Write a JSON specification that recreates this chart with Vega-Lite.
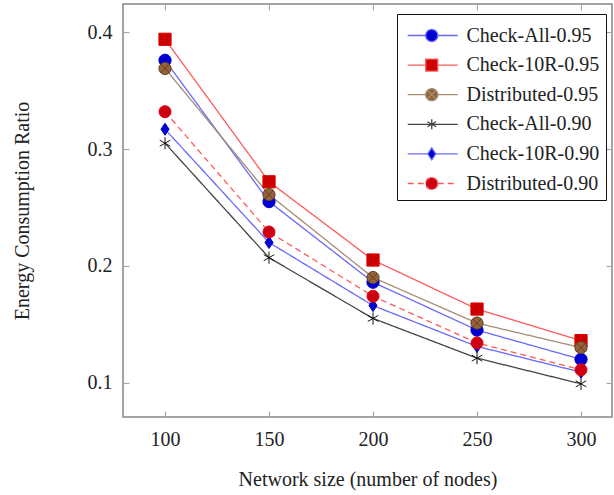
{
  "$schema": "https://vega.github.io/schema/vega-lite/v6.json",
  "width": 489,
  "height": 413,
  "autosize": {"type": "none"},
  "padding": {"left": 123, "top": 4, "right": 2, "bottom": 78},
  "background": "white",
  "config": {
    "view": {"stroke": "#858585", "strokeWidth": 1.5},
    "font": "Liberation Serif",
    "legend": {
      "orient": "none", "legendX": 274, "legendY": 10, "direction": "vertical",
      "padding": 6, "strokeColor": "#111", "fillColor": "white", "cornerRadius": 0,
      "symbolSize": 870, "symbolStrokeWidth": 1.3, "symbolOpacity": 1, "rowPadding": 3.6,
      "labelFont": "Liberation Serif", "labelFontSize": 20, "labelColor": "#222", "labelOffset": 32.5,
      "labelLimit": 300
    }
  },
  "data": {
    "values": [
      {"n": 100, "series": "Check-All-0.95", "ratio": 0.376},
      {"n": 150, "series": "Check-All-0.95", "ratio": 0.255},
      {"n": 200, "series": "Check-All-0.95", "ratio": 0.186},
      {"n": 250, "series": "Check-All-0.95", "ratio": 0.145},
      {"n": 300, "series": "Check-All-0.95", "ratio": 0.120},
      {"n": 100, "series": "Check-10R-0.95", "ratio": 0.394},
      {"n": 150, "series": "Check-10R-0.95", "ratio": 0.272},
      {"n": 200, "series": "Check-10R-0.95", "ratio": 0.205},
      {"n": 250, "series": "Check-10R-0.95", "ratio": 0.163},
      {"n": 300, "series": "Check-10R-0.95", "ratio": 0.136},
      {"n": 100, "series": "Distributed-0.95", "ratio": 0.369},
      {"n": 150, "series": "Distributed-0.95", "ratio": 0.261},
      {"n": 200, "series": "Distributed-0.95", "ratio": 0.190},
      {"n": 250, "series": "Distributed-0.95", "ratio": 0.151},
      {"n": 300, "series": "Distributed-0.95", "ratio": 0.130},
      {"n": 100, "series": "Check-All-0.90", "ratio": 0.305},
      {"n": 150, "series": "Check-All-0.90", "ratio": 0.207},
      {"n": 200, "series": "Check-All-0.90", "ratio": 0.155},
      {"n": 250, "series": "Check-All-0.90", "ratio": 0.121},
      {"n": 300, "series": "Check-All-0.90", "ratio": 0.099},
      {"n": 100, "series": "Check-10R-0.90", "ratio": 0.317},
      {"n": 150, "series": "Check-10R-0.90", "ratio": 0.220},
      {"n": 200, "series": "Check-10R-0.90", "ratio": 0.166},
      {"n": 250, "series": "Check-10R-0.90", "ratio": 0.131},
      {"n": 300, "series": "Check-10R-0.90", "ratio": 0.109},
      {"n": 100, "series": "Distributed-0.90", "ratio": 0.332},
      {"n": 150, "series": "Distributed-0.90", "ratio": 0.229},
      {"n": 200, "series": "Distributed-0.90", "ratio": 0.174},
      {"n": 250, "series": "Distributed-0.90", "ratio": 0.134},
      {"n": 300, "series": "Distributed-0.90", "ratio": 0.111}
    ]
  },
  "resolve": {
    "axis": {"x": "independent", "y": "independent"},
    "scale": {"shape": "independent", "fill": "independent", "stroke": "independent", "size": "independent", "strokeDash": "independent", "color": "independent"},
    "legend": {"shape": "independent", "fill": "independent", "stroke": "independent", "size": "independent", "strokeDash": "independent", "color": "independent"}
  },
  "layer": [
    {
      "mark": {"type": "line", "strokeWidth": 1.3},
      "encoding": {
        "x": {
          "field": "n", "type": "quantitative",
          "scale": {"domain": [79.8, 314.9], "nice": false, "zero": false},
          "axis": {
            "orient": "bottom", "values": [100, 150, 200, 250, 300], "domain": false, "grid": false,
            "tickSize": -6, "tickColor": "#a8a8a8", "tickWidth": 1.2,
            "labelFont": "Liberation Serif", "labelFontSize": 20, "labelColor": "#222", "labelPadding": 18,
            "title": "Network size (number of nodes)", "titleFont": "Liberation Serif", "titleFontSize": 20,
            "titleFontWeight": "normal", "titleColor": "#222", "titlePadding": 20
          }
        },
        "y": {
          "field": "ratio", "type": "quantitative",
          "scale": {"domain": [0.0706, 0.4242], "nice": false, "zero": false},
          "axis": {
            "orient": "left", "values": [0.1, 0.2, 0.3, 0.4], "format": ".1f", "domain": false, "grid": false,
            "tickSize": -6, "tickColor": "#a8a8a8", "tickWidth": 1.2,
            "labelFont": "Liberation Serif", "labelFontSize": 20, "labelColor": "#222", "labelPadding": 17,
            "title": "Energy Consumption Ratio", "titleFont": "Liberation Serif", "titleFontSize": 20,
            "titleFontWeight": "normal", "titleColor": "#222", "titlePadding": 55
          }
        },
        "color": {
          "field": "series", "type": "nominal", "legend": null,
          "scale": {
            "domain": ["Check-All-0.95", "Check-10R-0.95", "Distributed-0.95", "Check-All-0.90", "Check-10R-0.90", "Distributed-0.90"],
            "range": ["#6868ff", "#ff5a5a", "#a58c74", "#444444", "#6868ff", "#ff5a5a"]
          }
        },
        "strokeDash": {
          "field": "series", "type": "nominal", "legend": null,
          "scale": {
            "domain": ["Check-All-0.95", "Check-10R-0.95", "Distributed-0.95", "Check-All-0.90", "Check-10R-0.90", "Distributed-0.90"],
            "range": [[1, 0], [1, 0], [1, 0], [1, 0], [1, 0], [6, 4]]
          }
        }
      }
    },
    {
      "mark": {"type": "point", "filled": false, "opacity": 1, "strokeWidth": 1},
      "encoding": {
        "x": {
          "field": "n", "type": "quantitative",
          "axis": {
            "orient": "top", "values": [100, 150, 200, 250, 300], "domain": false, "grid": false,
            "labels": false, "title": null, "tickSize": -6, "tickColor": "#a8a8a8", "tickWidth": 1.2
          }
        },
        "y": {
          "field": "ratio", "type": "quantitative",
          "axis": {
            "orient": "right", "values": [0.1, 0.2, 0.3, 0.4], "domain": false, "grid": false,
            "labels": false, "title": null, "tickSize": -6, "tickColor": "#a8a8a8", "tickWidth": 1.2
          }
        },
        "shape": {
          "field": "series", "type": "nominal", "legend": null,
          "scale": {
            "domain": ["Check-All-0.95", "Check-10R-0.95", "Distributed-0.95", "Check-All-0.90", "Check-10R-0.90", "Distributed-0.90"],
            "range": ["circle", "square", "M1,0A1,1 0 1,1 -1,0A1,1 0 1,1 1,0ZM-0.707,-0.707L0.707,0.707M-0.707,0.707L0.707,-0.707", "M0,-1V1M-0.866,-0.5L0.866,0.5M-0.866,0.5L0.866,-0.5", "M0,-1L0.67,0L0,1L-0.67,0Z", "circle"]
          }
        },
        "size": {
          "field": "series", "type": "nominal", "legend": null,
          "scale": {
            "domain": ["Check-All-0.95", "Check-10R-0.95", "Distributed-0.95", "Check-All-0.90", "Check-10R-0.90", "Distributed-0.90"],
            "range": [150, 144, 150, 100, 144, 150]
          }
        },
        "fill": {
          "field": "series", "type": "nominal", "legend": null,
          "scale": {
            "domain": ["Check-All-0.95", "Check-10R-0.95", "Distributed-0.95", "Check-All-0.90", "Check-10R-0.90", "Distributed-0.90"],
            "range": ["#0000d0", "#cc0000", "#94633a", "transparent", "#0000d0", "#cc0010"]
          }
        },
        "stroke": {
          "field": "series", "type": "nominal", "legend": null,
          "scale": {
            "domain": ["Check-All-0.95", "Check-10R-0.95", "Distributed-0.95", "Check-All-0.90", "Check-10R-0.90", "Distributed-0.90"],
            "range": ["#0000d0", "#e00000", "#5e3e22", "#111111", "#0000d0", "#e00010"]
          }
        }
      }
    },
    {
      "mark": {"type": "point", "filled": false, "opacity": 0},
      "encoding": {
        "x": {"field": "n", "type": "quantitative", "axis": null},
        "y": {"field": "ratio", "type": "quantitative", "axis": null},
        "shape": {
          "field": "series", "type": "nominal", "title": null,
          "scale": {
            "domain": ["Check-All-0.95", "Check-10R-0.95", "Distributed-0.95", "Check-All-0.90", "Check-10R-0.90", "Distributed-0.90"],
            "range": [
              "M-0.729,0H0.491M1.305,0H2.661M1.305,0A0.407,0.407 0 1,1 0.491,0A0.407,0.407 0 1,1 1.305,0Z",
              "M-0.729,0H0.491M1.305,0H2.661M0.491,-0.407H1.305V0.407H0.491Z",
              "M-0.729,0H0.491M1.305,0H2.661M1.305,0A0.407,0.407 0 1,1 0.491,0A0.407,0.407 0 1,1 1.305,0ZM0.61,-0.288L1.186,0.288M0.61,0.288L1.186,-0.288",
              "M-0.729,0H2.661M0.898,-0.339V0.339M0.604,-0.17L1.192,0.17M0.604,0.17L1.192,-0.17",
              "M-0.729,0H0.627M1.169,0H2.661M0.898,-0.407L1.169,0L0.898,0.407L0.627,0Z",
              "M-0.729,0H0.491M1.305,0H2.661M1.305,0A0.407,0.407 0 1,1 0.491,0A0.407,0.407 0 1,1 1.305,0Z"
            ]
          }
        },
        "fill": {
          "field": "series", "type": "nominal", "title": null,
          "scale": {
            "domain": ["Check-All-0.95", "Check-10R-0.95", "Distributed-0.95", "Check-All-0.90", "Check-10R-0.90", "Distributed-0.90"],
            "range": ["#0000d0", "#cc0000", "#94633a", "transparent", "#0000d0", "#cc0010"]
          }
        },
        "stroke": {
          "field": "series", "type": "nominal", "title": null,
          "scale": {
            "domain": ["Check-All-0.95", "Check-10R-0.95", "Distributed-0.95", "Check-All-0.90", "Check-10R-0.90", "Distributed-0.90"],
            "range": ["#6868ff", "#ff5a5a", "#a58c74", "#444444", "#6868ff", "#ff5a5a"]
          }
        },
        "strokeDash": {
          "field": "series", "type": "nominal", "title": null,
          "scale": {
            "domain": ["Check-All-0.95", "Check-10R-0.95", "Distributed-0.95", "Check-All-0.90", "Check-10R-0.90", "Distributed-0.90"],
            "range": [[1, 0], [1, 0], [1, 0], [1, 0], [1, 0], [6, 4]]
          }
        }
      }
    }
  ]
}
